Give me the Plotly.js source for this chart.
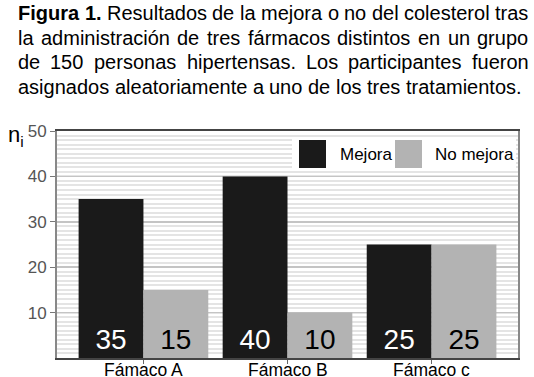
<!DOCTYPE html>
<html>
<head>
<meta charset="utf-8">
<script src="https://cdn.plot.ly/plotly-3.0.1.min.js"></script>
<style>
  html, body { margin: 0; padding: 0; background: #ffffff; }
  #chart { width: 534px; height: 377px; }
</style>
</head>
<body>
<div id="chart"></div>
<script>
// ---- data ----
const categories = ["Fámaco A", "Fámaco B", "Fámaco c"];
const mejora = [35, 40, 25];
const noMejora = [15, 10, 25];
const seriesNames = ["Mejora", "No mejora"];
const yTickVals = [10, 20, 30, 40, 50];
const yAxisLabel = "n<sub>i</sub>";
const titleLines = [
  "Figura 1. Resultados de la mejora o no del colesterol tras",
  "la administración de tres fármacos distintos en un grupo",
  "de 150 personas hipertensas. Los participantes fueron",
  "asignados aleatoriamente a uno de los tres tratamientos."
];
const boldWordsFirstLine = 2;

// ---- layout helpers ----
const W = 534, H = 377;
const M = { l: 57, r: 16, t: 131, b: 19 };
const pw = W - M.l - M.r, ph = H - M.t - M.b;
const px2x = px => (px - M.l) / pw;
const py2y = py => (H - M.b - py) / ph;

const FONT = '"Liberation Sans", Arial, Helvetica, sans-serif';
const COL_DARK = '#1a1a1a', COL_GRAY = '#b3b3b3';

// measure words for justified title
const cv = document.createElement('canvas');
const ctx = cv.getContext('2d');
const TSIZE = 20;
function measure(txt, bold) {
  ctx.font = (bold ? 'bold ' : '') + TSIZE + 'px ' + FONT;
  return ctx.measureText(txt).width;
}
const annotations = [];
const L = 17, R = 527.5;
const baselines = [21, 45.5, 70, 94.5];
titleLines.forEach((line, li) => {
  const words = line.split(' ');
  const bolds = words.map((w, i) => li === 0 && i < boldWordsFirstLine);
  const widths = words.map((w, i) => measure(w, bolds[i]));
  const sum = widths.reduce((a, b) => a + b, 0);
  const justify = li < titleLines.length - 1;
  const gap = justify ? (R - L - sum) / (words.length - 1) : measure(' ', false);
  let x = L;
  words.forEach((w, i) => {
    annotations.push({
      xref: 'paper', yref: 'paper',
      x: px2x(x - 1), y: py2y(baselines[li] + 0.212 * TSIZE + 1),
      xanchor: 'left', yanchor: 'bottom',
      text: bolds[i] ? '<b>' + w + '</b>' : w,
      showarrow: false,
      font: { family: FONT, size: TSIZE, color: '#000000' }
    });
    x += widths[i] + gap;
  });
});

// y-axis label n_i
annotations.push({
  xref: 'paper', yref: 'paper', x: px2x(6), y: py2y(136),
  xanchor: 'left', yanchor: 'middle',
  text: yAxisLabel, showarrow: false,
  font: { family: FONT, size: 22, color: '#000000' }
});

// x category labels (placed just under the axis)
categories.forEach(c => {
  annotations.push({
    xref: 'x', yref: 'paper', x: c, y: 0,
    xanchor: 'center', yanchor: 'top', yshift: 0,
    text: c, showarrow: false,
    font: { family: FONT, size: 17.5, color: '#000000' }
  });
});

// custom legend
const legendItems = [
  { name: seriesNames[0], color: COL_DARK, sq: 299, tx: 338 },
  { name: seriesNames[1], color: COL_GRAY, sq: 395, tx: 433 }
];
const shapes = [{
  type: 'rect', xref: 'paper', yref: 'paper', layer: 'above',
  x0: px2x(292), x1: px2x(516), y0: py2y(171), y1: py2y(137),
  fillcolor: '#ffffff', line: { width: 0 }
}];
legendItems.forEach(it => {
  shapes.push({
    type: 'rect', xref: 'paper', yref: 'paper', layer: 'above',
    x0: px2x(it.sq), x1: px2x(it.sq + 27), y0: py2y(168), y1: py2y(140),
    fillcolor: it.color, line: { width: 0 }
  });
  annotations.push({
    xref: 'paper', yref: 'paper', x: px2x(it.tx), y: py2y(154),
    xanchor: 'left', yanchor: 'middle', text: it.name, showarrow: false,
    font: { family: FONT, size: 17, color: '#000000' }
  });
});

const traces = [
  {
    type: 'bar', name: seriesNames[0], x: categories, y: mejora,
    marker: { color: COL_DARK, line: { width: 0 } },
    text: mejora.map(String), textposition: 'inside', insidetextanchor: 'start',
    textangle: 0, textfont: { family: FONT, size: 28, color: '#ffffff' },
    hoverinfo: 'none'
  },
  {
    type: 'bar', name: seriesNames[1], x: categories, y: noMejora,
    marker: { color: COL_GRAY, line: { width: 0 } },
    text: noMejora.map(String), textposition: 'inside', insidetextanchor: 'start',
    textangle: 0, textfont: { family: FONT, size: 28, color: '#000000' },
    hoverinfo: 'none'
  }
];

const layout = {
  width: W, height: H,
  margin: M,
  paper_bgcolor: '#ffffff', plot_bgcolor: '#ffffff',
  showlegend: false,
  barmode: 'group', bargap: 0.1, bargroupgap: 0,
  font: { family: FONT, color: '#000000' },
  xaxis: {
    type: 'category', range: [-0.6, 2.6], fixedrange: true,
    showline: true, linecolor: '#444444', linewidth: 2, mirror: true,
    showgrid: false, zeroline: false, showticklabels: false,
    ticks: 'outside', ticklen: 4, tickcolor: '#666666', tickwidth: 1
  },
  yaxis: {
    range: [0, 50], fixedrange: true,
    tickmode: 'array', tickvals: yTickVals,
    showline: true, linecolor: '#888888', linewidth: 2, mirror: true,
    showgrid: true, gridcolor: '#c4c4c4', gridwidth: 1.5, zeroline: false,
    ticks: 'outside', ticklen: 5, tickcolor: '#777777', tickwidth: 1,
    tickfont: { family: FONT, size: 17, color: '#555555' },
    minor: { tickmode: 'linear', tick0: 0, dtick: 1, showgrid: true,
             gridcolor: '#e4e4e4', gridwidth: 2, ticks: '' }
  },
  shapes: shapes,
  annotations: annotations
};

Plotly.newPlot('chart', traces, layout, { displayModeBar: false, staticPlot: true });
</script>
</body>
</html>
